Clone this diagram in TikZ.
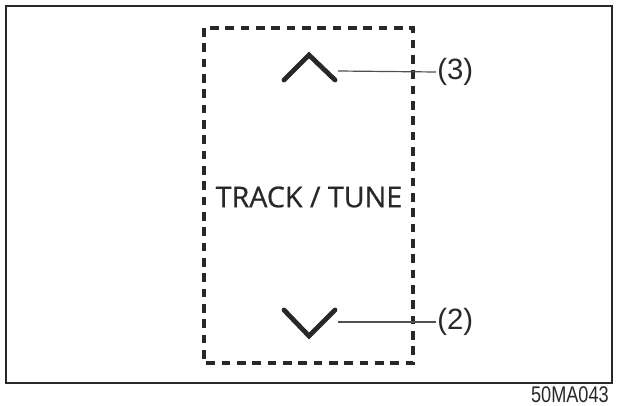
\documentclass[tikz,border=0pt]{standalone}
\usepackage{fontspec}
\setmainfont{Liberation Sans}
\newfontfamily\panelfont[FakeBold=0.6]{Open Sans}
\usepackage{tikz}
\usetikzlibrary{positioning}
\definecolor{inkgray}{RGB}{40,40,40}
\definecolor{leadgray}{RGB}{80,80,80}

\begin{document}
\begin{tikzpicture}[x=0.75pt,y=0.75pt,yscale=-1,xscale=1,
  framebox/.style={draw=inkgray,line width=1.6pt},
  panelbox/.style={draw=inkgray,line width=3pt,dash pattern=on 6.5pt off 5pt},
  chevron/.style={draw=inkgray,line width=3.6pt,line cap=round,line join=miter},
  leader/.style={draw=leadgray,line width=0.9pt},
  calltext/.style={anchor=west,inner sep=0.75pt,text=inkgray,font=\fontsize{22}{24}\selectfont}]
\useasboundingbox (0,0) rectangle (618,406);

%Outer frame
\draw [framebox] (6,6) rectangle (612,383) ;
%Dashed panel
\draw [panelbox] (204,28) rectangle (413,363) ;

%Chevron up
\coordinate (upl) at (284,80);
\coordinate (uptop) at (309,55);
\coordinate (upr) at (335,80);
\draw [chevron] (upl) -- (uptop) -- (upr) ;
%Chevron down
\coordinate (dnl) at (284,310);
\coordinate (dnbot) at (309,336);
\coordinate (dnr) at (335,310);
\draw [chevron] (dnl) -- (dnbot) -- (dnr) ;

% Text Node
\node (tracktune) at (309,197) [inner sep=0.75pt,text=inkgray,font=\panelfont\fontsize{21.5}{24}\selectfont] {TRACK / TUNE};
% Text Node
\node (lbl3) at (436,72) [calltext] {(3)};
% Text Node
\node (lbl2) at (436,322) [calltext] {(2)};
% Text Node
\node (figcode) at (609,394.5) [anchor=east,inner sep=0pt,text=inkgray,font=\fontsize{17}{20}\selectfont] {\scalebox{0.8}[1]{50MA043}};

%Leader lines
\coordinate (up3) at (338,71);
\coordinate (dn2) at (338,322);
\draw [leader] (up3) -- (lbl3.west) ;
\draw [leader] (dn2) -- (lbl2.west) ;

\end{tikzpicture}
\end{document}
